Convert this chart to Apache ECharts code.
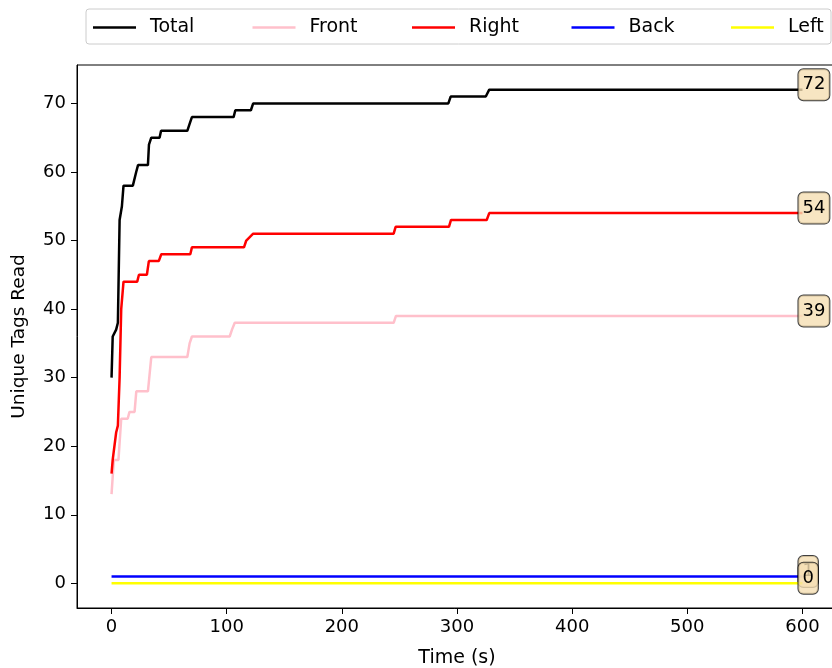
<!DOCTYPE html>
<html>
<head>
<meta charset="utf-8">
<script src="https://cdn.jsdelivr.net/npm/echarts@6/dist/echarts.min.js"></script>
<style>
  html, body { margin: 0; padding: 0; background: #fff; }
  #main { width: 832px; height: 668px; }
</style>
</head>
<body>
<div id="main"></div>
<script>
// readings, [time (s), unique tags]
var total = [[0, 30], [1, 36], [4, 37], [5.5, 38], [7, 53], [9, 55], [10.4, 58], [18.5, 58], [21.4, 60], [23, 61],
  [31.6, 61], [32.5, 64], [34.5, 65], [41.7, 65], [43, 66], [65.8, 66], [67.8, 67], [69.8, 68], [106, 68],
  [107.5, 69], [121, 69], [123, 70], [292.5, 70], [294.5, 71], [325, 71], [328, 72], [600, 72]]
var front = [[0, 13], [2, 18], [6, 18], [8.4, 24], [14, 24], [15.6, 25], [20, 25], [21.5, 28], [31.6, 28],
  [34.5, 33], [65.8, 33], [67.8, 35], [69.8, 36], [102.6, 36], [104.6, 37], [107, 38], [245, 38], [247, 39], [600, 39]]
var right = [[0, 16], [1, 18], [4, 22], [5.5, 23], [7, 30], [8.4, 40], [10.4, 44], [22.3, 44], [23.8, 45],
  [30.7, 45], [32.4, 47], [41, 47], [43.2, 48], [68.4, 48], [69.8, 49], [115, 49], [117, 50], [123, 51],
  [245, 51], [246.7, 52], [293, 52], [294.8, 53], [325.8, 53], [328, 54], [600, 54]]
var back = [[0, 1], [600, 1]]
var left = [[0, 0], [600, 0]]

var names = ['Total', 'Front', 'Right', 'Back', 'Left']
var colors = ['#000000', '#ffc0cb', '#ff0000', '#0000ff', '#ffff00']
var lines = [total, front, right, back, left]
var xTicks = [0, 100, 200, 300, 400, 500, 600]
var yTicks = [0, 10, 20, 30, 40, 50, 60, 70]

var font = 'DejaVu Sans'
var chart = echarts.init(document.getElementById('main'))

var series = names.map(function (n, i) {
  return {
    name: n,
    type: 'line',
    data: lines[i],
    color: colors[i],
    symbol: 'none',
    lineStyle: { width: 2.5, color: colors[i] },
    z: 2 + i,
    // value box at the end of each line
    endLabel: {
      show: true,
      formatter: function (p) { return p.value[1] },
      distance: -4,
      offset: [0, -5],
      color: '#000',
      fontFamily: font,
      fontSize: 18,
      lineHeight: 19,
      backgroundColor: 'rgba(245,222,179,0.8)',
      borderColor: 'rgba(0,0,0,0.75)',
      borderWidth: 1,
      borderRadius: 5,
      padding: [6, 4, 6, 4]
    }
  }
})

var option = {
  animation: false,
  backgroundColor: '#fff',
  legend: {
    left: 86,
    top: 9,
    padding: [9, 7, 7, 7],
    itemWidth: 43,
    itemHeight: 2.5,
    itemGap: 12.5,
    icon: 'rect',
    borderColor: '#cccccc',
    borderWidth: 1,
    borderRadius: 3,
    textStyle: { fontFamily: font, fontSize: 19, lineHeight: 19, color: '#000', width: 90, padding: [0, 0, 0, 9] },
    data: names.map(function (n) {
      return n === 'Left' ? { name: n, textStyle: { width: 36 } } : { name: n }
    })
  },
  grid: {
    left: 77,
    right: -5,
    top: 65,
    bottom: 60,
    show: true,
    borderColor: '#000',
    borderWidth: 1,
    outerBoundsMode: 'none'
  },
  xAxis: {
    type: 'value',
    min: -30,
    max: 630,
    name: 'Time (s)',
    nameLocation: 'middle',
    nameGap: 41,
    nameTextStyle: { fontFamily: font, fontSize: 19, color: '#000' },
    axisLine: { onZero: false, lineStyle: { color: '#000', width: 1 } },
    axisTick: { show: true, length: 6, lineStyle: { color: '#000' }, customValues: xTicks },
    axisLabel: { fontFamily: font, fontSize: 18, color: '#000', margin: 10, customValues: xTicks },
    splitLine: { show: false }
  },
  yAxis: {
    type: 'value',
    min: -3.6,
    max: 75.6,
    name: 'Unique Tags Read',
    nameLocation: 'middle',
    nameGap: 48,
    nameTextStyle: { fontFamily: font, fontSize: 18.5, color: '#000' },
    axisLine: { show: true, onZero: false, lineStyle: { color: '#000', width: 1 } },
    axisTick: { show: true, length: 6, lineStyle: { color: '#000' }, customValues: yTicks },
    axisLabel: { fontFamily: font, fontSize: 18, color: '#000', margin: 11, customValues: yTicks },
    splitLine: { show: false }
  },
  series: series
}

chart.setOption(option)
</script>
</body>
</html>
